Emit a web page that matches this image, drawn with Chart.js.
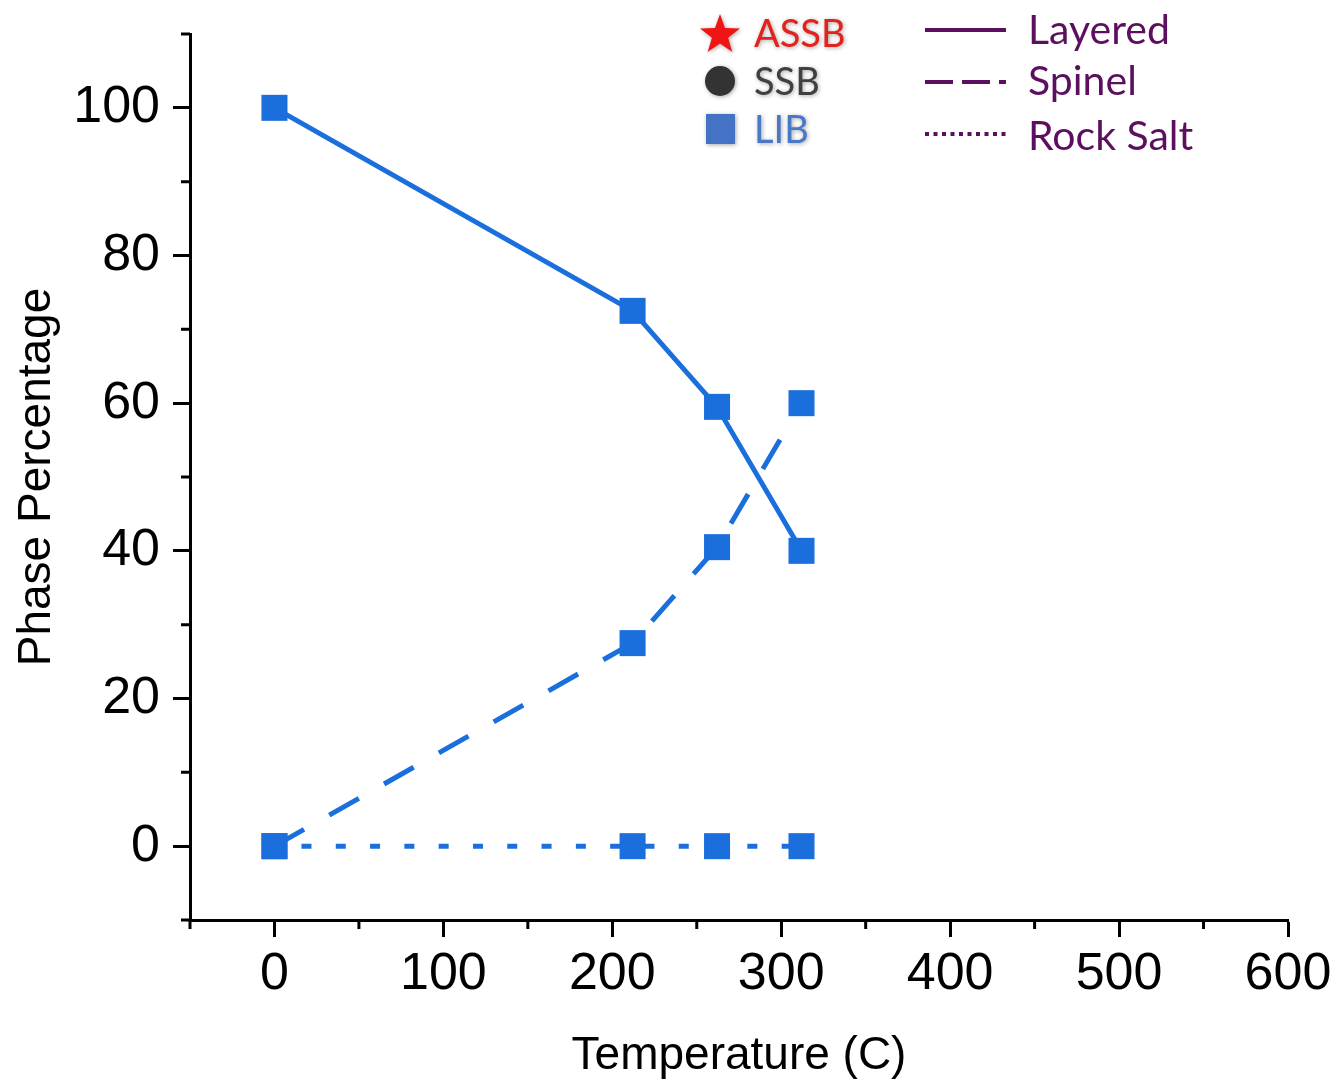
<!DOCTYPE html>
<html>
<head>
<meta charset="utf-8">
<script src="https://cdn.jsdelivr.net/npm/chart.js@4/dist/chart.umd.min.js"></script>
<style>
  html, body { margin: 0; padding: 0; background: #fff; }
  canvas { display: block; }
</style>
</head>
<body>
<canvas id="phaseChart" width="1339" height="1079"></canvas>
<script>
// Phase fractions of the LIB cathode versus temperature
const temperatures = [0, 212, 262, 312];
const layered = [100, 72.5, 59.5, 40];
const spinel = [0, 27.5, 40.5, 60];
const rockSalt = [0, 0, 0, 0];

// Axis ticks
const xTicks = [0, 100, 200, 300, 400, 500, 600];
const yTicks = [0, 20, 40, 60, 80, 100];
const xMinorTicks = [-50, 50, 150, 250, 350, 450, 550];
const yMinorTicks = [-10, 10, 30, 50, 70, 90, 110];

// Key entries
const cellLabels = ['ASSB', 'SSB', 'LIB'];
const phaseLabels = ['Layered', 'Spinel', 'Rock Salt'];

const LIB_BLUE = '#1b6fdc';
const AXIS_FONT = '"Liberation Sans", Arial, sans-serif';

const toPoints = vals => temperatures.map((t, i) => ({ x: t, y: vals[i] }));

const seriesStyle = {
  borderColor: LIB_BLUE,
  backgroundColor: LIB_BLUE,
  borderWidth: 5,
  pointStyle: 'rect',
  pointRadius: 18.4,
  pointHoverRadius: 18.4,
  pointBorderWidth: 0,
  pointBackgroundColor: LIB_BLUE,
  tension: 0,
  clip: false,
  showLine: true
};

// Short outward ticks between the labelled ones
const minorTicks = {
  id: 'minorTicks',
  afterDraw(chart) {
    const { ctx, scales: { x, y }, chartArea: a } = chart;
    ctx.save();
    ctx.strokeStyle = '#000';
    ctx.lineWidth = 3;
    ctx.beginPath();
    xMinorTicks.forEach(v => {
      const px = x.getPixelForValue(v);
      ctx.moveTo(px, a.bottom);
      ctx.lineTo(px, a.bottom + 9);
    });
    yMinorTicks.forEach(v => {
      const py = y.getPixelForValue(v);
      ctx.moveTo(a.left, py);
      ctx.lineTo(a.left - 9, py);
    });
    ctx.stroke();
    ctx.restore();
  }
};

function starPath(ctx, cx, cy, outer, inner) {
  ctx.beginPath();
  for (let i = 0; i < 10; i++) {
    const r = i % 2 === 0 ? outer : inner;
    const ang = -Math.PI / 2 + i * Math.PI / 5;
    const px = cx + r * Math.cos(ang), py = cy + r * Math.sin(ang);
    if (i === 0) ctx.moveTo(px, py); else ctx.lineTo(px, py);
  }
  ctx.closePath();
}

// Key: battery type markers on the left, phase line styles on the right
const keyBox = {
  id: 'keyBox',
  afterDraw(chart) {
    const ctx = chart.ctx;
    ctx.save();
    ctx.filter = 'blur(0.6px)';
    ctx.textBaseline = 'alphabetic';
    ctx.textAlign = 'left';

    // battery types
    ctx.save();
    ctx.font = '38px Lato, "Open Sans", sans-serif';
    ctx.shadowColor = 'rgba(0,0,0,0.35)';
    ctx.shadowBlur = 4;
    ctx.shadowOffsetX = 1;
    ctx.shadowOffsetY = 1;
    ctx.fillStyle = '#f01414';
    starPath(ctx, 720, 35, 21, 8.5);
    ctx.fill();
    ctx.fillStyle = '#e3211d';
    ctx.fillText(cellLabels[0], 754, 47);

    ctx.fillStyle = '#333333';
    ctx.beginPath();
    ctx.arc(720, 81, 15, 0, Math.PI * 2);
    ctx.fill();
    ctx.fillStyle = '#404040';
    ctx.fillText(cellLabels[1], 754, 95);

    ctx.fillStyle = '#4472c4';
    ctx.fillRect(706, 114, 29, 30);
    ctx.fillStyle = '#4a78c8';
    ctx.fillText(cellLabels[2], 754, 143);
    ctx.restore();

    // phase line styles
    const purple = '#5c0f5e';
    ctx.font = '41px Lato, "Open Sans", sans-serif';
    ctx.strokeStyle = purple;
    ctx.lineWidth = 4;
    const dashes = [[], [28, 9], [4, 4.5]];
    const ys = [30, 82, 134];
    dashes.forEach((d, i) => {
      ctx.setLineDash(d);
      ctx.beginPath();
      ctx.moveTo(925, ys[i]);
      ctx.lineTo(1006, ys[i]);
      ctx.stroke();
    });
    ctx.setLineDash([]);
    ctx.fillStyle = purple;
    ctx.fillText(phaseLabels[0], 1028, 44);
    ctx.fillText(phaseLabels[1], 1028, 95);
    ctx.fillText(phaseLabels[2], 1028, 150);
    ctx.restore();
  }
};

new Chart(document.getElementById('phaseChart'), {
  type: 'line',
  data: {
    datasets: [
      Object.assign({ label: phaseLabels[0], data: toPoints(layered), borderDash: [] }, seriesStyle),
      Object.assign({ label: phaseLabels[1], data: toPoints(spinel), borderDash: [34, 29] }, seriesStyle),
      Object.assign({ label: phaseLabels[2], data: toPoints(rockSalt), borderDash: [10, 24.3], borderDashOffset: 7.3 }, seriesStyle)
    ]
  },
  options: {
    responsive: false,
    devicePixelRatio: 1,
    animation: false,
    events: [],
    layout: { padding: { left: 0, right: 51, top: 34, bottom: 0 } },
    plugins: {
      legend: { display: false },
      tooltip: { enabled: false }
    },
    scales: {
      x: {
        type: 'linear',
        min: -50,
        max: 600,
        afterBuildTicks: s => { s.ticks = xTicks.map(v => ({ value: v })); },
        afterFit: s => { s.height = 159; s.paddingLeft = 0; s.paddingRight = 0; },
        grid: { display: true, drawOnChartArea: false, drawTicks: true, tickLength: 17, tickWidth: 3, tickColor: '#000' },
        border: { display: true, color: '#000', width: 3 },
        ticks: { color: '#000', font: { family: AXIS_FONT, size: 52 }, padding: 6, maxRotation: 0, autoSkip: false },
        title: { display: true, text: 'Temperature (C)', color: '#000', font: { family: AXIS_FONT, size: 46, lineHeight: 1 }, padding: { top: 0, bottom: 0 } }
      },
      y: {
        type: 'linear',
        min: -10,
        max: 110,
        afterBuildTicks: s => { s.ticks = yTicks.map(v => ({ value: v })); },
        afterFit: s => { s.width = 190; s.paddingTop = 0; s.paddingBottom = 0; },
        grid: { display: true, drawOnChartArea: false, drawTicks: true, tickLength: 17, tickWidth: 3, tickColor: '#000' },
        border: { display: true, color: '#000', width: 3 },
        ticks: { color: '#000', font: { family: AXIS_FONT, size: 52 }, padding: 13, autoSkip: false },
        title: { display: true, text: 'Phase Percentage', color: '#000', font: { family: AXIS_FONT, size: 46, lineHeight: 1 }, padding: { top: 14, bottom: 0 } }
      }
    }
  },
  plugins: [minorTicks, keyBox]
});
</script>
</body>
</html>
